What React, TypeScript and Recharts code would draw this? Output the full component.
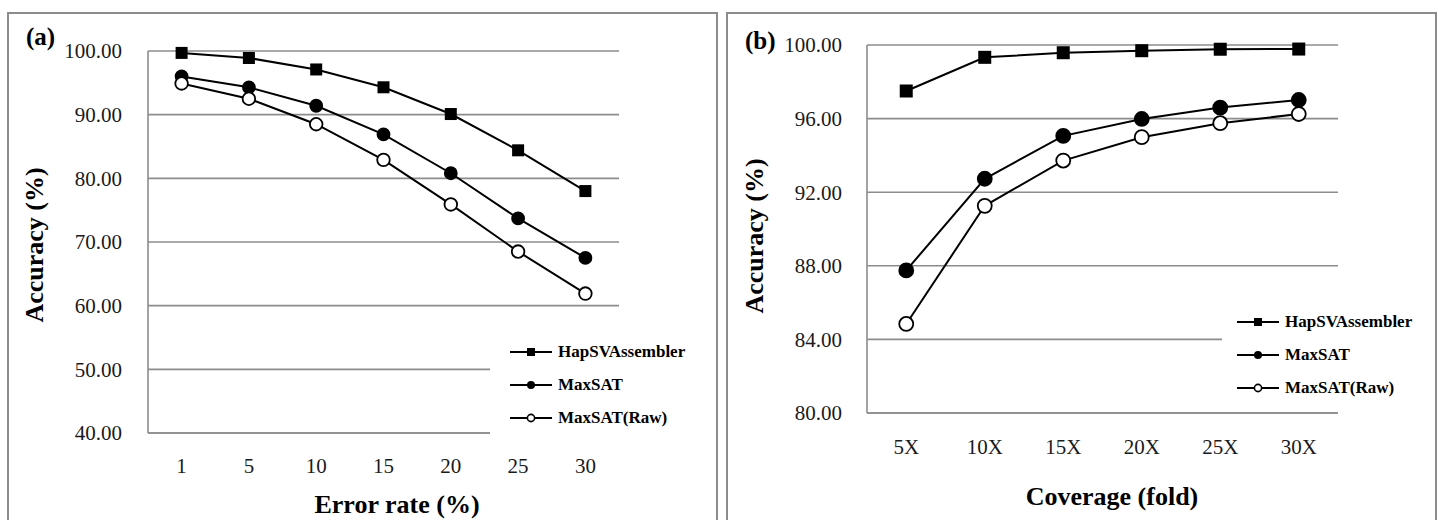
import { LineChart, Line, XAxis, YAxis, CartesianGrid, Legend } from 'recharts'

// panel (a): accuracy vs error rate
const errorRates = ['1', '5', '10', '15', '20', '25', '30']
const hapSvA = [99.7, 98.9, 97.1, 94.3, 90.1, 84.4, 78.0]
const maxSatA = [96.0, 94.3, 91.4, 86.9, 80.8, 73.7, 67.5]
const maxSatRawA = [94.9, 92.5, 88.5, 82.9, 75.9, 68.5, 61.9]
const ticksA = [40, 50, 60, 70, 80, 90, 100]

// panel (b): accuracy vs coverage
const coverages = ['5X', '10X', '15X', '20X', '25X', '30X']
const hapSvB = [97.5, 99.33, 99.58, 99.69, 99.77, 99.78]
const maxSatB = [87.75, 92.73, 95.06, 95.98, 96.6, 97.01]
const maxSatRawB = [84.84, 91.26, 93.72, 94.99, 95.75, 96.25]
const ticksB = [80, 84, 88, 92, 96, 100]

const seriesNames = ['HapSVAssembler', 'MaxSAT', 'MaxSAT(Raw)']

const FONT = '"Liberation Serif", "Times New Roman", serif'
const GRID = '#8c8c8c'

const dataA = errorRates.map((x, i) => ({ x, hap: hapSvA[i], max: maxSatA[i], raw: maxSatRawA[i] }))
const dataB = coverages.map((x, i) => ({ x, hap: hapSvB[i], max: maxSatB[i], raw: maxSatRawB[i] }))

const squareDot = (size: number) => (props: any) => {
    const { cx, cy, index } = props
    if (cx == null || cy == null) return <g key={`sq-${index}`} />
    return <rect key={`sq-${index}`} x={cx - size / 2} y={cy - size / 2} width={size} height={size} fill="#000" />
}

const circleDot = (r: number, filled: boolean) => (props: any) => {
    const { cx, cy, index } = props
    if (cx == null || cy == null) return <g key={`c-${index}`} />
    return (
        <circle
            key={`c-${filled ? 'f' : 'o'}-${index}`}
            cx={cx}
            cy={cy}
            r={r}
            fill={filled ? '#000' : '#fff'}
            stroke="#000"
            strokeWidth={1.8}
        />
    )
}

function LegendBox({ padLeft }: { padLeft: number }) {
    return (
        <div style={{ background: '#fff', paddingLeft: padLeft, fontFamily: FONT }}>
            {seriesNames.map((name, i) => (
                <div key={name} style={{ display: 'flex', alignItems: 'center', height: 33 }}>
                    <svg width={42} height={12} style={{ display: 'block' }}>
                        <line x1={0} y1={6} x2={42} y2={6} stroke="#000" strokeWidth={2} />
                        {i === 0 && <rect x={17} y={2} width={8} height={8} fill="#000" />}
                        {i === 1 && <circle cx={21} cy={6} r={4} fill="#000" />}
                        {i === 2 && <circle cx={21} cy={6} r={3.6} fill="#fff" stroke="#000" strokeWidth={1.6} />}
                    </svg>
                    <span style={{ marginLeft: 6, fontWeight: 'bold', fontSize: 17, color: '#000' }}>{name}</span>
                </div>
            ))}
        </div>
    )
}

const tickStyle = { fontFamily: FONT, fontSize: 21, fill: '#1a1a1a' }

function Title({ text, left, top, rotate }: { text: string; left: number; top: number; rotate?: boolean }) {
    return (
        <div
            style={{
                position: 'absolute',
                left,
                top,
                transform: `translate(-50%, -50%)${rotate ? ' rotate(-90deg)' : ''}`,
                fontFamily: FONT,
                fontWeight: 'bold',
                fontSize: 26,
                whiteSpace: 'nowrap',
                color: '#000'
            }}
        >
            {text}
        </div>
    )
}

export default function App() {
    return (
        <div style={{ position: 'absolute', left: 0, top: 0, width: 1438, height: 520, overflow: 'hidden', background: '#fff' }}>
            {/* panel frames */}
            <div style={{ position: 'absolute', left: 7, top: 12, width: 707, height: 540, border: `2px solid ${GRID}` }} />
            <div style={{ position: 'absolute', left: 726, top: 12, width: 707, height: 540, border: `2px solid ${GRID}` }} />

            <div style={{ position: 'absolute', left: 0, top: 0 }}>
                <LineChart width={716} height={520} data={dataA} margin={{ top: 51, right: 97, bottom: 27, left: 88 }}>
                    <CartesianGrid vertical={false} stroke={GRID} strokeWidth={1.6} />
                    <XAxis
                        dataKey="x"
                        padding={{ left: 33.6, right: 33.6 }}
                        height={60}
                        axisLine={{ stroke: GRID, strokeWidth: 1.6 }}
                        tickLine={false}
                        tickSize={0}
                        tickMargin={25}
                        tick={tickStyle}
                        interval={0}
                    />
                    <YAxis
                        domain={[40, 100]}
                        ticks={ticksA}
                        width={60}
                        interval={0}
                        axisLine={{ stroke: GRID, strokeWidth: 1.6 }}
                        tickLine={false}
                        tickSize={0}
                        tickMargin={26}
                        tick={tickStyle}
                        tickFormatter={(v: number) => v.toFixed(2)}
                    />
                    <Line dataKey="hap" name={seriesNames[0]} stroke="#000" strokeWidth={2} dot={squareDot(12)} activeDot={false} isAnimationActive={false} />
                    <Line dataKey="max" name={seriesNames[1]} stroke="#000" strokeWidth={2} dot={circleDot(6, true)} activeDot={false} isAnimationActive={false} />
                    <Line dataKey="raw" name={seriesNames[2]} stroke="#000" strokeWidth={2} dot={circleDot(6.3, false)} activeDot={false} isAnimationActive={false} />
                    <Legend
                        layout="vertical"
                        align="center"
                        verticalAlign="middle"
                        content={() => <LegendBox padLeft={20} />}
                        wrapperStyle={{ position: 'absolute', left: 490, top: 335.5, width: 215, height: 'auto' }}
                    />
                </LineChart>
            </div>

            <div style={{ position: 'absolute', left: 716, top: 0 }}>
                <LineChart width={722} height={520} data={dataB} margin={{ top: 45, right: 100, bottom: 47, left: 91 }}>
                    <CartesianGrid vertical={false} stroke={GRID} strokeWidth={1.6} />
                    <XAxis
                        dataKey="x"
                        padding={{ left: 39.25, right: 39.25 }}
                        height={60}
                        axisLine={{ stroke: GRID, strokeWidth: 1.6 }}
                        tickLine={false}
                        tickSize={0}
                        tickMargin={26}
                        tick={tickStyle}
                        interval={0}
                    />
                    <YAxis
                        domain={[80, 100]}
                        ticks={ticksB}
                        width={60}
                        interval={0}
                        axisLine={{ stroke: GRID, strokeWidth: 1.6 }}
                        tickLine={false}
                        tickSize={0}
                        tickMargin={25}
                        tick={tickStyle}
                        tickFormatter={(v: number) => v.toFixed(2)}
                    />
                    <Line dataKey="hap" name={seriesNames[0]} stroke="#000" strokeWidth={2} dot={squareDot(13)} activeDot={false} isAnimationActive={false} />
                    <Line dataKey="max" name={seriesNames[1]} stroke="#000" strokeWidth={2} dot={circleDot(7, true)} activeDot={false} isAnimationActive={false} />
                    <Line dataKey="raw" name={seriesNames[2]} stroke="#000" strokeWidth={2} dot={circleDot(7, false)} activeDot={false} isAnimationActive={false} />
                    <Legend
                        layout="vertical"
                        align="center"
                        verticalAlign="middle"
                        content={() => <LegendBox padLeft={15} />}
                        wrapperStyle={{ position: 'absolute', left: 506, top: 305.5, width: 205, height: 'auto' }}
                    />
                </LineChart>
            </div>

            {/* panel labels and axis titles */}
            <div style={{ position: 'absolute', left: 26, top: 23, fontFamily: FONT, fontWeight: 'bold', fontSize: 25 }}>(a)</div>
            <div style={{ position: 'absolute', left: 745, top: 27, fontFamily: FONT, fontWeight: 'bold', fontSize: 25 }}>(b)</div>
            <Title text="Accuracy (%)" left={35} top={245} rotate />
            <Title text="Error rate (%)" left={397} top={505} />
            <Title text="Accuracy (%)" left={755} top={236} rotate />
            <Title text="Coverage (fold)" left={1112} top={497} />
        </div>
    )
}
